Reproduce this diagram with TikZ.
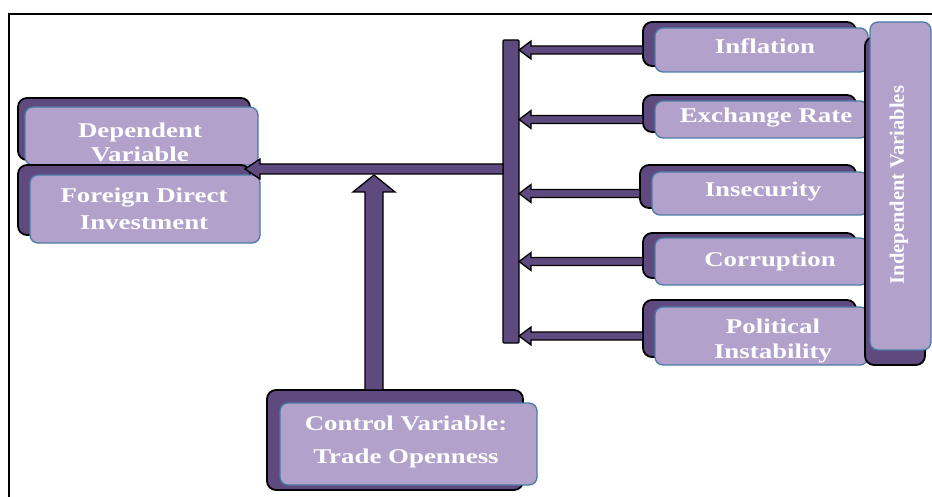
\documentclass[tikz,border=0pt]{standalone}
\usepackage{fontspec}
\usetikzlibrary{calc}
\newfontfamily\lblfont{Liberation Serif}[FakeStretch=1.28]
\newfontfamily\indfont{Liberation Serif}
\definecolor{dpurple}{RGB}{94,74,126}
\definecolor{lpurple}{RGB}{178,161,202}
\definecolor{bborder}{RGB}{74,123,166}
\tikzset{
  shad/.style={draw=black, line width=1.8pt, fill=dpurple, rounded corners=9pt, inner sep=0pt, outer sep=0pt},
  front/.style={draw=bborder, line width=1.3pt, fill=lpurple, rounded corners=8pt, inner sep=0pt, outer sep=0pt},
  lbl/.style={text=white, font=\lblfont\bfseries\fontsize{21}{24}\selectfont, align=center, inner sep=0pt},
  arr/.style={draw=black, line width=1.3pt, fill=dpurple, line join=miter},
  barbox/.style={draw=black, line width=1.3pt, fill=dpurple, inner sep=0pt, outer sep=0pt, rounded corners=1pt},
}
% fat arrow pointing left: tail, tip, shaft half, head half, head length
\newcommand\arrLeft[5]{%
  \draw[arr] let \p1=(#1), \p2=(#2) in
  (\x1,\y2+#3) -- (\x2+#5,\y2+#3) -- (\x2+#5,\y2+#4) -- (\x2,\y2) --
  (\x2+#5,\y2-#4) -- (\x2+#5,\y2-#3) -- (\x1,\y2-#3) -- cycle;}
% fat arrow pointing up
\newcommand\arrUp[5]{%
  \draw[arr] let \p1=(#1), \p2=(#2) in
  (\x2-#3,\y1) -- (\x2-#3,\y2-#5) -- (\x2-#4,\y2-#5) -- (\x2,\y2) --
  (\x2+#4,\y2-#5) -- (\x2+#3,\y2-#5) -- (\x2+#3,\y1) -- cycle;}
\begin{document}
\begin{tikzpicture}[x=1pt,y=-1pt]
\useasboundingbox (0,0) rectangle (932,497);
% frame
\draw[line width=1.5pt] (932,14) -- (9,14) -- (9,497);

% collector bar
\node[barbox, minimum width=16pt, minimum height=303pt] (bar) at (511,191.5) {};

% left boxes
\node[shad, minimum width=232pt, minimum height=62pt] (depS) at (134,129) {};
\node[front, minimum width=233pt, minimum height=58pt] (dep) at (141.5,136) {};
\node[lbl] (depT) at (140,142) {Dependent\\Variable};
\node[shad, minimum width=232pt, minimum height=70pt] (fdiS) at (134,200) {};
\node[front, minimum width=230pt, minimum height=68pt] (fdi) at (145,209) {};
\node[lbl, font=\lblfont\bfseries\fontsize{21}{27}\selectfont] (fdiT) at (144,209) {Foreign Direct\\Investment};

% main arrow to dependent variable
\coordinate (tipL) at (245,169);
\arrLeft{bar.west}{tipL}{5pt}{10pt}{15pt}

% control variable
\coordinate (tipU) at (374,175);
\node[shad, minimum width=256pt, minimum height=100pt] (ctrlS) at (395,440) {};
\arrUp{ctrlS.north}{tipU}{9pt}{21pt}{17pt}
\node[front, minimum width=257pt, minimum height=82pt] (ctrl) at (408.5,444) {};
\node[lbl, font=\lblfont\bfseries\fontsize{21}{33}\selectfont] (ctrlT) at (406,442) {Control Variable:\\Trade Openness};

% right boxes (shadows first, arrows under them)
\node[shad, minimum width=213pt, minimum height=44pt] (infS) at (749.5,44) {};
\node[shad, minimum width=213pt, minimum height=37pt] (excS) at (749.5,113.5) {};
\node[shad, minimum width=216pt, minimum height=43pt] (insS) at (748,186.5) {};
\node[shad, minimum width=213pt, minimum height=45pt] (corS) at (749.5,255.5) {};
\node[shad, minimum width=213pt, minimum height=57pt] (polS) at (749.5,328.5) {};

\node[front, minimum width=213pt, minimum height=44pt] (inf) at (761.5,50) {};
\node[front, minimum width=213pt, minimum height=37pt] (exc) at (761.5,119.5) {};
\node[front, minimum width=216pt, minimum height=43pt] (ins) at (760,193.5) {};
\node[front, minimum width=213pt, minimum height=47pt] (cor) at (761.5,261.5) {};
\node[front, minimum width=213pt, minimum height=58pt] (pol) at (761.5,336) {};

\arrLeft{infS.west}{bar.east |- inf.center}{4pt}{9pt}{12pt}
\arrLeft{excS.west}{bar.east |- exc.center}{4pt}{9pt}{12pt}
\arrLeft{insS.west}{bar.east |- ins.center}{4pt}{9pt}{12pt}
\arrLeft{corS.west}{bar.east |- cor.center}{4pt}{9pt}{12pt}
\arrLeft{polS.west}{bar.east |- pol.center}{4pt}{9pt}{12pt}

\node[lbl] (infT) at (765,46) {Inflation};
\node[lbl] (excT) at (766,118) {Exchange Rate};
\node[lbl] (insT) at (763,191) {Insecurity};
\node[lbl] (corT) at (770,261) {Corruption};
\node[lbl, font=\lblfont\bfseries\fontsize{21}{25}\selectfont] (polT) at (773,341) {Political\\Instability};

% independent variables
\node[shad, minimum width=60pt, minimum height=328pt] (indS) at (895,201) {};
\node[front, minimum width=61pt, minimum height=328pt] (ind) at (900.5,186) {};
\node[text=white, font=\indfont\bfseries\fontsize{20.5}{24}\selectfont, rotate=90, inner sep=0pt] (indT) at (899,185) {Independent Variables};
\end{tikzpicture}
\end{document}
